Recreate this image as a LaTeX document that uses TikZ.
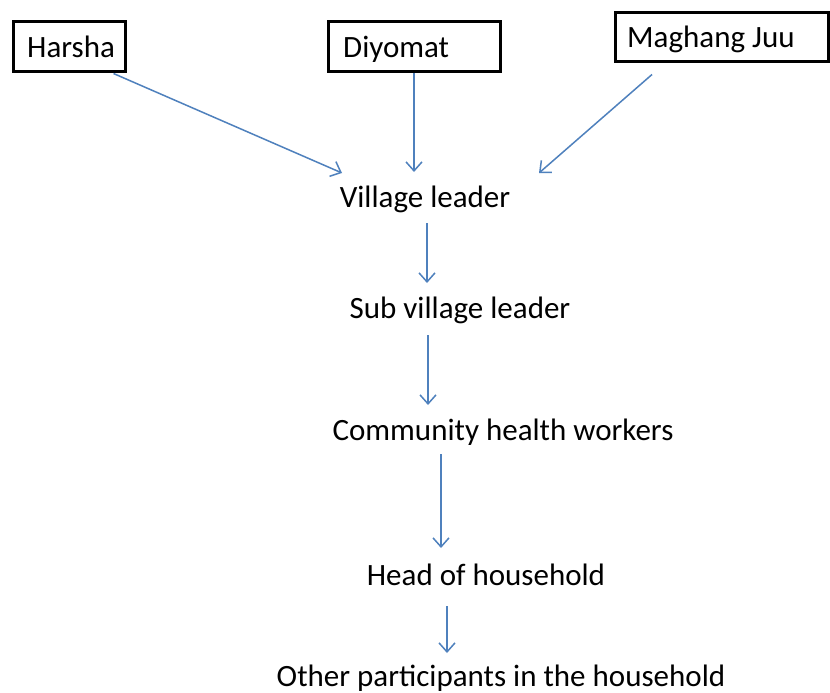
\documentclass[tikz,border=0pt]{standalone}
\usepackage{fontspec}
\setmainfont{Carlito}
\usetikzlibrary{arrows.meta,calc}
\definecolor{arrblue}{HTML}{4F81BD}
\begin{document}
\begin{tikzpicture}[x=1pt,y=-1pt,
  box/.style={draw=black,line width=3pt,rectangle,inner sep=0pt},
  lbl/.style={inner sep=0pt,font=\fontsize{31}{36}\selectfont},
  arr/.style={draw=arrblue,line width=1.5pt,-{Straight Barb[length=9pt,width=16pt,line width=1.5pt]}}]
\useasboundingbox[fill=white] (0,0) rectangle (830,693);
% boxes
\node[box,minimum width=112pt,minimum height=50pt] (harsha) at (69,47) {};
\node[box,minimum width=172pt,minimum height=50pt] (diyomat) at (414,47) {};
\node[box,minimum width=213pt,minimum height=49pt] (maghang) at (721.5,37.5) {};
\node[lbl,anchor=base west] (harshaT) at (27,58) {Harsha};
\node[lbl,anchor=base west] (diyomatT) at (343,58) {Diyomat};
\node[lbl,anchor=base west] (maghangT) at (627,48) {Maghang Juu};
% chain texts
\node[lbl,anchor=base] (vl) at (425,207) {Village leader};
\node[lbl,anchor=base] (svl) at (460,318) {Sub village leader};
\node[lbl,anchor=base] (chw) at (503,440) {Community health workers};
\node[lbl,anchor=base] (hoh) at (486,585) {Head of household};
\node[lbl,anchor=base] (oth) at (501,686) {Other participants in the household};
% arrows
\draw[arr] ($(harsha.south east)+(-13,0)$) -- ($(vl.base)+(-83,-34)$);
\draw[arr] (diyomat.south) -- ($(vl.base)+(-11,-35)$);
\draw[arr] ($(maghang.south)+(-69.5,11)$) -- ($(vl.base)+(114,-34)$);
\draw[arr] ($(vl.base)+(2,16)$) -- ($(svl.base)+(-33,-35)$);
\draw[arr] ($(svl.base)+(-32,17)$) -- ($(chw.base)+(-75,-35)$);
\draw[arr] ($(chw.base)+(-62,14)$) -- ($(hoh.base)+(-45,-37)$);
\draw[arr] ($(hoh.base)+(-39,21)$) -- ($(oth.base)+(-54,-33)$);
\end{tikzpicture}
\end{document}
